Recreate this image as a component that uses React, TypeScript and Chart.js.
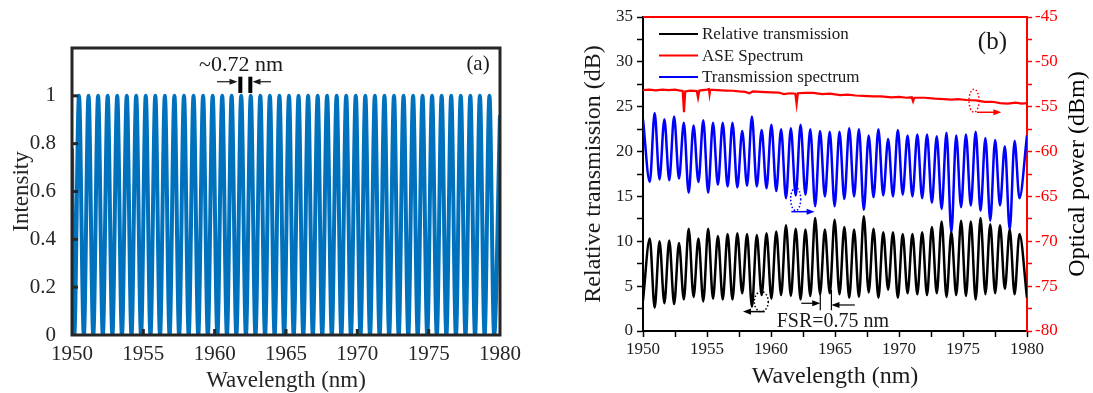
import React, { useEffect, useRef } from "react";
import { Chart, registerables } from "chart.js";
Chart.register(...registerables);

const FONT = "'Liberation Serif', 'Times New Roman', Times, serif";

// ---------------- Panel (a) data ----------------
const A_PEAK_WL = [
  1950.49, 1951.16, 1951.83, 1952.5, 1953.17, 1953.84, 1954.5, 1955.17, 1955.84, 1956.51,
  1957.18, 1957.85, 1958.52, 1959.19, 1959.86, 1960.53, 1961.19, 1961.86, 1962.53, 1963.2,
  1963.87, 1964.54, 1965.21, 1965.88, 1966.55, 1967.22, 1967.88, 1968.55, 1969.22, 1969.89,
  1970.56, 1971.23, 1971.9, 1972.57, 1973.24, 1973.91, 1974.57, 1975.24, 1975.91, 1976.58,
  1977.25, 1977.92, 1978.59, 1979.26,
];
const A_TROUGH_WL = [
  1950.16, 1950.83, 1951.49, 1952.16, 1952.83, 1953.5, 1954.17, 1954.84, 1955.5, 1956.17,
  1956.84, 1957.51, 1958.18, 1958.85, 1959.52, 1960.19, 1960.86, 1961.52, 1962.19, 1962.86,
  1963.53, 1964.2, 1964.87, 1965.54, 1966.21, 1966.88, 1967.54, 1968.21, 1968.88, 1969.55,
  1970.22, 1970.89, 1971.56, 1972.23, 1972.9, 1973.57, 1974.23, 1974.9, 1975.57, 1976.24,
  1976.91, 1977.58, 1978.25, 1978.92, 1979.59,
];
const A_PEAK_I = 1;
const A_TROUGH_I = 0;
const A_EDGE_WL = [1950.0, 1980.0];
const A_EDGE_I = [0.78, 0.92];
const A_X_TICKS = [1950, 1955, 1960, 1965, 1970, 1975, 1980];
const A_Y_TICKS = [0, 0.2, 0.4, 0.6, 0.8, 1];

// ---------------- Panel (b) data ----------------
const B_WL = [
  1950.0,
  1950.53, 1950.91, 1951.29, 1951.67, 1952.05, 1952.43, 1952.81, 1953.19, 1953.57, 1953.95,
  1954.33, 1954.71, 1955.09, 1955.47, 1955.85, 1956.23, 1956.61, 1956.99, 1957.37, 1957.75,
  1958.13, 1958.51, 1958.89, 1959.27, 1959.65, 1960.03, 1960.41, 1960.79, 1961.17, 1961.55,
  1961.93, 1962.31, 1962.69, 1963.07, 1963.45, 1963.83, 1964.21, 1964.59, 1964.97, 1965.35,
  1965.73, 1966.11, 1966.49, 1966.87, 1967.25, 1967.63, 1968.01, 1968.39, 1968.77, 1969.15,
  1969.53, 1969.91, 1970.29, 1970.67, 1971.05, 1971.43, 1971.81, 1972.19, 1972.57, 1972.95,
  1973.33, 1973.71, 1974.09, 1974.47, 1974.85, 1975.23, 1975.61, 1975.99, 1976.37, 1976.75,
  1977.13, 1977.51, 1977.89, 1978.27, 1978.65, 1979.03, 1979.41,
  1980.0,
];
// Relative transmission (dB), left axis
const B_REL_DB = [
  3.4,
  10.3, 2.6, 10.0, 3.1, 10.1, 3.0, 9.8, 3.5, 11.4, 3.8,
  10.3, 3.3, 11.4, 3.6, 10.6, 3.5, 10.8, 3.5, 10.9, 4.2,
  10.8, 2.7, 10.7, 4.0, 10.9, 3.6, 11.1, 4.0, 11.8, 3.9,
  11.4, 3.5, 11.3, 3.9, 12.6, 4.1, 11.3, 4.2, 12.4, 4.1,
  11.6, 3.7, 11.3, 3.8, 12.8, 4.3, 11.4, 3.7, 11.0, 4.6,
  11.0, 3.7, 10.8, 4.2, 10.8, 4.1, 11.0, 4.0, 11.6, 4.2,
  12.2, 3.8, 11.0, 4.0, 12.3, 3.9, 12.2, 3.5, 12.6, 4.1,
  11.9, 4.2, 11.8, 4.7, 11.3, 4.1, 10.8,
  3.7,
];
// Transmission spectrum (dBm), right axis
const B_TRANS_DBM = [
  -56.4,
  -63.4, -55.7, -63.1, -56.4, -63.2, -56.1, -63.0, -56.8, -64.6, -57.1,
  -63.4, -56.5, -64.6, -56.8, -63.7, -56.8, -63.9, -56.8, -64.0, -57.7,
  -63.8, -56.1, -63.9, -57.6, -64.1, -57.0, -64.4, -57.5, -65.2, -57.4,
  -64.9, -57.0, -64.8, -57.5, -66.1, -57.7, -65.0, -57.8, -66.1, -57.8,
  -65.3, -57.4, -65.0, -57.5, -66.5, -58.2, -65.1, -57.5, -64.9, -58.6,
  -65.0, -57.6, -64.8, -58.2, -65.0, -58.1, -65.2, -58.1, -65.7, -58.3,
  -66.4, -57.9, -69.0, -58.2, -66.2, -58.1, -66.0, -57.8, -66.6, -58.5,
  -67.7, -58.7, -66.0, -59.4, -68.7, -58.8, -65.2,
  -58.2,
];
// ASE spectrum (dBm), right axis
const ASE_WL = [
  1950.0, 1950.5, 1951.0, 1951.5, 1952.0, 1952.5, 1952.9, 1953.1, 1953.2, 1953.3,
  1953.7, 1954.2, 1954.3, 1954.4, 1955.0, 1955.15, 1955.2, 1955.25, 1955.8, 1956.5,
  1957.0, 1957.5, 1958.0, 1958.3, 1958.6, 1959.2, 1960.0, 1960.6, 1961.0, 1961.5,
  1961.9, 1962.0, 1962.1, 1962.7, 1963.3, 1964.0, 1964.6, 1965.4, 1966.0, 1966.6,
  1967.2, 1968.0, 1968.6, 1969.4, 1970.0, 1970.6, 1971.0, 1971.1, 1971.2, 1972.0,
  1972.8, 1973.5, 1974.1, 1974.6, 1975.3, 1976.0, 1976.7, 1977.3, 1977.9, 1978.5,
  1979.1, 1979.6, 1980.0,
];
const ASE_DBM = [
  -53.15, -53.1, -53.18, -53.1, -53.15, -53.1, -53.2, -53.25, -55.6, -53.3,
  -53.2, -53.25, -54.0, -53.2, -53.1, -53.05, -53.6, -53.1, -53.15, -53.2,
  -53.22, -53.3, -53.35, -53.5, -53.3, -53.35, -53.4, -53.42, -53.6, -53.5,
  -53.55, -54.7, -53.5, -53.45, -53.45, -53.6, -53.55, -53.7, -53.65, -53.75,
  -53.8, -53.85, -53.85, -53.95, -53.9, -54.0, -53.95, -54.4, -54.0, -54.0,
  -54.1, -54.15, -54.2, -54.15, -54.25, -54.3, -54.45, -54.45, -54.6, -54.65,
  -54.55, -54.65, -54.6,
];
const B_LABELS = ["Relative transmission", "ASE Spectrum", "Transmission spectrum"];
const B_COLORS = ["#000000", "#ff0000", "#0000ff"];

// ---------------- helpers ----------------
function arrowH(ctx: CanvasRenderingContext2D, x1: number, y: number, x2: number, color: string, lw: number, head: number) {
  const dir = Math.sign(x2 - x1);
  ctx.strokeStyle = color;
  ctx.fillStyle = color;
  ctx.lineWidth = lw;
  ctx.setLineDash([]);
  ctx.beginPath();
  ctx.moveTo(x1, y);
  ctx.lineTo(x2 - dir * head * 0.7, y);
  ctx.stroke();
  ctx.beginPath();
  ctx.moveTo(x2, y);
  ctx.lineTo(x2 - dir * head, y - head * 0.38);
  ctx.lineTo(x2 - dir * head, y + head * 0.38);
  ctx.closePath();
  ctx.fill();
}

function dottedEllipse(ctx: CanvasRenderingContext2D, x: number, y: number, rx: number, ry: number, color: string) {
  ctx.save();
  ctx.strokeStyle = color;
  ctx.lineWidth = 1.5;
  ctx.setLineDash([1.5, 2]);
  ctx.beginPath();
  ctx.ellipse(x, y, rx, ry, 0, 0, Math.PI * 2);
  ctx.stroke();
  ctx.restore();
}

// ---------------- Panel (a) ----------------
function PanelA() {
  const ref = useRef<HTMLCanvasElement | null>(null);
  useEffect(() => {
    if (!ref.current) return;
    const pts: { x: number; y: number }[] = [{ x: A_EDGE_WL[0], y: A_EDGE_I[0] }];
    for (let i = 0; i < A_TROUGH_WL.length; i++) {
      pts.push({ x: A_TROUGH_WL[i], y: A_TROUGH_I });
      if (i < A_PEAK_WL.length) pts.push({ x: A_PEAK_WL[i], y: A_PEAK_I });
    }
    pts.push({ x: A_EDGE_WL[1], y: A_EDGE_I[1] });

    const framePlugin = {
      id: "frameA",
      afterDatasetsDraw(chart: any) {
        const { ctx, chartArea: ca, scales } = chart;
        const sx = scales.x, sy = scales.y;
        ctx.save();
        ctx.strokeStyle = "#262626";
        ctx.lineWidth = 3;
        ctx.strokeRect(ca.left, ca.top, ca.right - ca.left, ca.bottom - ca.top);
        ctx.lineWidth = 3;
        for (const v of A_Y_TICKS) {
          if (v === 0) continue;
          const y = sy.getPixelForValue(v);
          ctx.beginPath(); ctx.moveTo(ca.left, y); ctx.lineTo(ca.left + 6, y); ctx.stroke();
        }
        for (const v of A_X_TICKS) {
          if (v === 1950 || v === 1980) continue;
          const x = sx.getPixelForValue(v);
          ctx.beginPath(); ctx.moveTo(x, ca.bottom); ctx.lineTo(x, ca.bottom - 6); ctx.stroke();
        }
        // annotations
        ctx.fillStyle = "#1a1a1a";
        ctx.textAlign = "center";
        ctx.textBaseline = "middle";
        ctx.font = `22px ${FONT}`;
        ctx.fillText("~0.72 nm", sx.getPixelForValue(1961.85), sy.getPixelForValue(1.129));
        ctx.font = `21px ${FONT}`;
        ctx.fillText("(a)", sx.getPixelForValue(1978.46), sy.getPixelForValue(1.129));
        const ay = sy.getPixelForValue(1.059);
        arrowH(ctx, sx.getPixelForValue(1960.16), ay, sx.getPixelForValue(1961.6), "#1a1a1a", 1.2, 8);
        arrowH(ctx, sx.getPixelForValue(1963.95), ay, sx.getPixelForValue(1962.65), "#1a1a1a", 1.2, 8);
        ctx.strokeStyle = "#000";
        ctx.lineWidth = 4;
        for (const w of [1961.8, 1962.5]) {
          const x = sx.getPixelForValue(w);
          ctx.beginPath();
          ctx.moveTo(x, sy.getPixelForValue(1.08));
          ctx.lineTo(x, sy.getPixelForValue(1.012));
          ctx.stroke();
        }
        ctx.restore();
      },
    };

    const chart = new Chart(ref.current, {
      type: "line",
      data: {
        datasets: [
          {
            label: "Intensity",
            data: pts,
            borderColor: "#0072BD",
            borderWidth: 4,
            pointRadius: 0,
            cubicInterpolationMode: "monotone",
            fill: false,
          },
        ],
      },
      options: {
        animation: false,
        responsive: false,
        maintainAspectRatio: false,
        layout: { padding: { top: 48, right: 40, left: 0, bottom: 0 } },
        plugins: { legend: { display: false }, tooltip: { enabled: false } },
        scales: {
          x: {
            type: "linear",
            min: 1950,
            max: 1980,
            afterFit: (s: any) => { s.height = 58; },
            grid: { display: false },
            border: { display: false },
            afterBuildTicks: (s: any) => { s.ticks = A_X_TICKS.map((v) => ({ value: v })); },
            ticks: {
              autoSkip: false,
              maxRotation: 0,
              padding: -1,
              color: "#262626",
              font: { family: FONT, size: 21 },
              callback: (v: any) => String(v),
            },
            title: {
              display: true,
              text: "Wavelength (nm)",
              color: "#262626",
              font: { family: FONT, size: 23 },
              padding: { top: 0, bottom: -2 },
            },
          },
          y: {
            min: 0,
            max: 1.2,
            afterFit: (s: any) => { s.width = 72; },
            grid: { display: false },
            border: { display: false },
            afterBuildTicks: (s: any) => { s.ticks = A_Y_TICKS.map((v) => ({ value: v })); },
            ticks: {
              autoSkip: false,
              padding: 8,
              color: "#262626",
              font: { family: FONT, size: 21 },
              callback: (v: any) => String(Math.round(Number(v) * 10) / 10),
            },
            title: {
              display: true,
              text: "Intensity",
              color: "#262626",
              font: { family: FONT, size: 23 },
              padding: { top: 8, bottom: 0 },
            },
          },
        },
      } as any,
      plugins: [framePlugin],
    });
    return () => chart.destroy();
  }, []);
  return <canvas ref={ref} width={540} height={393} style={{ position: "absolute", left: 0, top: 0, width: 540, height: 393 }} />;
}

// ---------------- Panel (b) ----------------
function PanelB() {
  const ref = useRef<HTMLCanvasElement | null>(null);
  useEffect(() => {
    if (!ref.current) return;
    const rel = B_WL.map((x, i) => ({ x, y: B_REL_DB[i] }));
    const trans = B_WL.map((x, i) => ({ x, y: B_TRANS_DBM[i] }));
    const ase = ASE_WL.map((x, i) => ({ x, y: ASE_DBM[i] }));

    const decoPlugin = {
      id: "decoB",
      afterDraw(chart: any) {
        const { ctx, chartArea: ca, scales } = chart;
        const sx = scales.x, sy = scales.y;
        ctx.save();
        // top red border
        ctx.strokeStyle = "#ff0000";
        ctx.lineWidth = 2;
        ctx.beginPath(); ctx.moveTo(ca.left, ca.top); ctx.lineTo(ca.right + 1, ca.top); ctx.stroke();
        // right title
        ctx.save();
        ctx.translate(ca.right + 51, (ca.top + ca.bottom) / 2);
        ctx.rotate(-Math.PI / 2);
        ctx.fillStyle = "#000";
        ctx.font = `24px ${FONT}`;
        ctx.textAlign = "center";
        ctx.textBaseline = "middle";
        ctx.fillText("Optical power (dBm)", 0, 0);
        ctx.restore();
        // legend
        ctx.font = `17px ${FONT}`;
        ctx.textAlign = "left";
        ctx.textBaseline = "middle";
        chart.data.datasets.forEach((ds: any, i: number) => {
          const y = ca.top + 17 + i * 21.5;
          ctx.strokeStyle = ds.borderColor;
          ctx.lineWidth = 2;
          ctx.beginPath(); ctx.moveTo(ca.left + 16, y); ctx.lineTo(ca.left + 55, y); ctx.stroke();
          ctx.fillStyle = "#1a1a1a";
          ctx.fillText(ds.label, ca.left + 59, y + 1);
        });
        // (b)
        ctx.font = `25px ${FONT}`;
        ctx.textAlign = "center";
        ctx.fillStyle = "#1a1a1a";
        ctx.fillText("(b)", sx.getPixelForValue(1977.3), sy.getPixelForValue(32.2));
        // FSR label
        ctx.font = `20px ${FONT}`;
        ctx.fillText("FSR=0.75 nm", sx.getPixelForValue(1964.84), sy.getPixelForValue(1.0));
        // ellipses + arrows
        dottedEllipse(ctx, sx.getPixelForValue(1975.86), sy.getPixelForValue(25.67), 5, 11.5, "#ff0000");
        arrowH(ctx, sx.getPixelForValue(1976.09), sy.getPixelForValue(24.38), sx.getPixelForValue(1978.0), "#ff0000", 1.5, 8);
        dottedEllipse(ctx, sx.getPixelForValue(1961.93), sy.getPixelForValue(14.71), 5, 11.5, "#0000ff");
        arrowH(ctx, sx.getPixelForValue(1961.59), sy.getPixelForValue(13.3), sx.getPixelForValue(1963.41), "#0000ff", 1.5, 8);
        dottedEllipse(ctx, sx.getPixelForValue(1959.24), sy.getPixelForValue(3.27), 7, 10, "#000000");
        arrowH(ctx, sx.getPixelForValue(1959.51), sy.getPixelForValue(2.16), sx.getPixelForValue(1957.81), "#000000", 1.5, 8);
        arrowH(ctx, sx.getPixelForValue(1962.37), sy.getPixelForValue(3.09), sx.getPixelForValue(1963.85), "#000000", 1.2, 8);
        arrowH(ctx, sx.getPixelForValue(1966.55), sy.getPixelForValue(2.9), sx.getPixelForValue(1964.72), "#000000", 1.2, 8);
        ctx.strokeStyle = "#000";
        ctx.lineWidth = 1.2;
        ctx.beginPath();
        ctx.moveTo(sx.getPixelForValue(1963.85), sy.getPixelForValue(4.3));
        ctx.lineTo(sx.getPixelForValue(1963.85), sy.getPixelForValue(2.3));
        ctx.moveTo(sx.getPixelForValue(1964.72), sy.getPixelForValue(4.6));
        ctx.lineTo(sx.getPixelForValue(1964.72), sy.getPixelForValue(2.3));
        ctx.stroke();
        ctx.restore();
      },
    };

    const tickFont = { family: FONT, size: 17 };
    const chart = new Chart(ref.current, {
      type: "line",
      data: {
        datasets: [
          { label: B_LABELS[0], data: rel, yAxisID: "y", borderColor: B_COLORS[0], borderWidth: 2.5, pointRadius: 0, cubicInterpolationMode: "monotone", fill: false },
          { label: B_LABELS[1], data: ase, yAxisID: "y1", borderColor: B_COLORS[1], borderWidth: 2.2, pointRadius: 0, tension: 0, fill: false },
          { label: B_LABELS[2], data: trans, yAxisID: "y1", borderColor: B_COLORS[2], borderWidth: 2.5, pointRadius: 0, cubicInterpolationMode: "monotone", fill: false },
        ],
      },
      options: {
        animation: false,
        responsive: false,
        maintainAspectRatio: false,
        layout: { padding: { top: 17, right: 0, left: 0, bottom: 0 } },
        plugins: { legend: { display: false }, tooltip: { enabled: false } },
        scales: {
          x: {
            type: "linear",
            min: 1950,
            max: 1980,
            afterFit: (s: any) => { s.height = 62; },
            grid: { drawOnChartArea: false, drawTicks: true, tickLength: 6, color: "#000", tickColor: "#000", tickWidth: 1.5 },
            border: { display: true, color: "#000", width: 2 },
            ticks: {
              stepSize: 2.5,
              autoSkip: false,
              maxRotation: 0,
              padding: 2,
              color: "#1a1a1a",
              font: tickFont,
              callback: (v: any) => (Math.abs(Number(v) % 5) < 1e-6 ? String(v) : ""),
            },
            title: { display: true, text: "Wavelength (nm)", color: "#1a1a1a", font: { family: FONT, size: 24 }, padding: { top: 0, bottom: 2 } },
          },
          y: {
            position: "left",
            min: 0,
            max: 35,
            afterFit: (s: any) => { s.width = 98; },
            grid: { drawOnChartArea: false, drawTicks: true, tickLength: 6, color: "#000", tickColor: "#000", tickWidth: 1.5 },
            border: { display: true, color: "#000", width: 2 },
            ticks: {
              stepSize: 2.5,
              autoSkip: false,
              padding: 4,
              color: "#1a1a1a",
              font: tickFont,
              callback: (v: any) => (Math.abs(Number(v) % 5) < 1e-6 ? String(v) : ""),
            },
            title: { display: true, text: "Relative transmission (dB)", color: "#1a1a1a", font: { family: FONT, size: 24 }, padding: { top: 34, bottom: 0 } },
          },
          y1: {
            position: "right",
            min: -80,
            max: -45,
            afterFit: (s: any) => { s.width = 66; },
            grid: { drawOnChartArea: false, drawTicks: true, tickLength: 5, color: "#ff0000", tickColor: "#ff0000", tickWidth: 1.5 },
            border: { display: true, color: "#ff0000", width: 2 },
            ticks: {
              stepSize: 2.5,
              autoSkip: false,
              padding: 3,
              color: "#ff0000",
              font: tickFont,
              callback: (v: any) => (Math.abs(Number(v) % 5) < 1e-6 ? String(v) : ""),
            },
            title: { display: false },
          },
        },
      } as any,
      plugins: [decoPlugin],
    });
    return () => chart.destroy();
  }, []);
  return <canvas ref={ref} width={548} height={393} style={{ position: "absolute", left: 545, top: 0, width: 548, height: 393 }} />;
}

export default function App() {
  return (
    <div style={{ position: "fixed", left: 0, top: 0, width: 1093, height: 393, background: "#fff", overflow: "hidden" }}>
      <PanelA />
      <PanelB />
    </div>
  );
}
